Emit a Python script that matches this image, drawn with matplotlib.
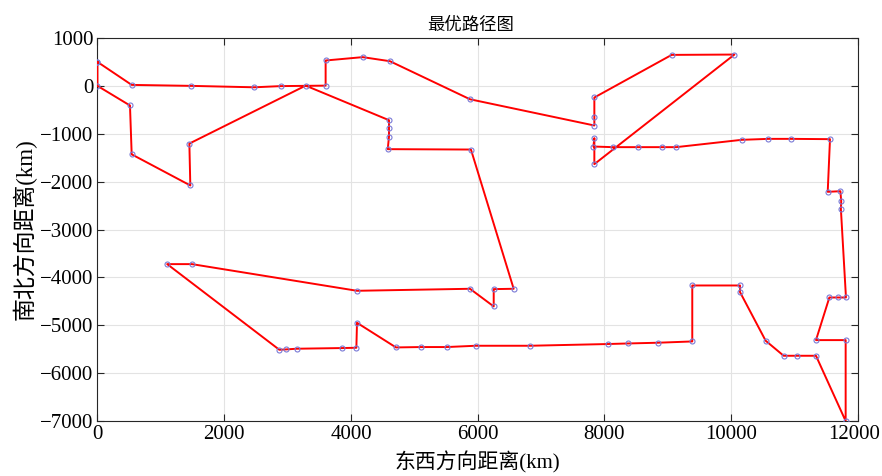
import matplotlib
matplotlib.use("Agg")
import matplotlib.pyplot as plt
from matplotlib.transforms import ScaledTranslation

plt.rcParams['font.family'] = ['Liberation Serif', 'Noto Sans CJK SC', 'DejaVu Sans']
plt.rcParams['axes.unicode_minus'] = True

# City coordinates (km) in the order the optimal route visits them
route_x = [0, 540, 1475, 2475, 2890, 3600, 3600, 4185, 4615, 5878,
           7840, 7840, 7840, 9060, 10050, 7840, 7840, 7825, 8130, 8530,
           8900, 9130, 10165, 10585, 10943, 11558, 11522, 11722, 11735, 11730,
           11810, 11685, 11548, 11337, 11805, 11805, 11337, 11037, 10827, 10543,
           10138, 10138, 9385, 9385, 8840, 8375, 8050, 6825, 5968, 5510,
           5100, 4710, 4095, 4085, 3860, 3143, 2970, 2870, 1100, 1490,
           4095, 5878, 6252, 6252, 6567, 5893, 4580, 4600, 4600, 4600,
           3285, 1450, 1465, 540, 513, 0, 0]
route_y = [500, 20, 0, -30, -5, 5, 530, 600, 515, -280,
           -828, -653, -243, 647, 654, -1635, -1092, -1267, -1280, -1280,
           -1280, -1280, -1127, -1107, -1107, -1113, -2213, -2200, -2408, -2575,
           -4420, -4420, -4420, -5310, -5310, -7000, -5637, -5637, -5637, -5323,
           -4307, -4169, -4169, -5338, -5365, -5380, -5392, -5428, -5428, -5455,
           -5455, -5463, -4948, -5470, -5476, -5490, -5505, -5512, -3723, -3723,
           -4280, -4238, -4607, -4245, -4238, -1330, -1322, -1058, -890, -717,
           5, -1205, -2080, -1430, -410, 0, 500]

x_ticks = [0, 2000, 4000, 6000, 8000, 10000, 12000]
y_ticks = [1000, 0, -1000, -2000, -3000, -4000, -5000, -6000, -7000]

title_text = '最优路径图'
x_label = '东西方向距离(km)'
y_label = '南北方向距离(km)'

fig = plt.figure(figsize=(8.82, 4.76), dpi=100)
ax = fig.add_axes([0.1105, 0.1155, 0.8623, 0.8047])

ax.plot(route_x, route_y, color='#ff0000', linewidth=1.4, zorder=3)
ax.plot(route_x, route_y, linestyle='none', marker='o', markersize=3.6,
        markerfacecolor='none', markeredgecolor='#7a7ad6', markeredgewidth=0.8,
        zorder=4)

ax.set_xlim(0, 12000)
ax.set_ylim(-7000, 1000)
ax.set_xticks(x_ticks)
ax.set_yticks(y_ticks)

ax.grid(True, color='#e3e3e3', linewidth=0.8)
ax.set_axisbelow(True)
ax.tick_params(direction='in', length=5, width=0.8, colors='#262626',
               labelsize=15, top=True, right=True, labelcolor='black', pad=3)
for s in ax.spines.values():
    s.set_color('#262626')
    s.set_linewidth(0.8)

# keep the rightmost x tick label inside the figure
last = ax.get_xticklabels()[-1]
last.set_transform(last.get_transform() + ScaledTranslation(-4 / 100, 0, fig.dpi_scale_trans))

ax.set_title(title_text, fontsize=12.5, pad=6, x=0.49)
ax.set_xlabel(x_label, fontsize=15, labelpad=5)
ax.set_ylabel(y_label, fontsize=16.5, labelpad=2)

fig.savefig('out.png', dpi=100)
